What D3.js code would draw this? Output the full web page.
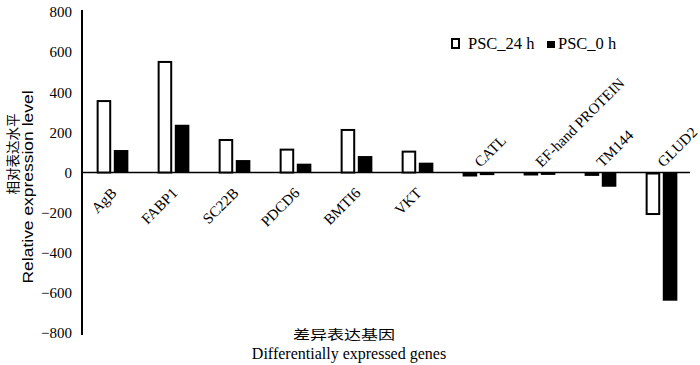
<!DOCTYPE html>
<html>
<head>
    <meta charset="utf-8">
    <title>Differentially expressed genes</title>
    <script type="text/javascript" src="https://cdn.jsdelivr.net/npm/d3@7/dist/d3.min.js"></script>
</head>
<body style="margin:0;background:#fff;">

<style>
.bar_24 { fill: #fff; stroke: #000; stroke-width: 2; }
.bar_0 { fill: #000; }
text { font-family: "Liberation Serif", "Times New Roman", serif; fill: #000; }
</style>

<script type="text/javascript">
    var width = 700,
        height = 365;

    var genes = ["AgB", "FABP1", "SC22B", "PDCD6", "BMTI6", "VKT",
                 "CATL", "EF-hand PROTEIN", "TM144", "GLUD2"];
    var series = ["PSC_24 h", "PSC_0 h"];
    var psc24 = [361, 556, 167, 119, 217, 109, -15, -2, -12, -207];
    var psc0 = [112, 238, 62, 44, 82, 49, -13, -12, -71, -639];
    var yTicks = [-800, -600, -400, -200, 0, 200, 400, 600, 800];

    var x0 = d3.scaleBand()
            .domain(genes)
            .range([82, 692])
            .paddingInner(0.48)
            .paddingOuter(0.24),
        x1 = d3.scaleBand()
            .domain(series)
            .range([0, x0.bandwidth()])
            .paddingInner(0.15),
        y = d3.scaleLinear()
            .domain([-800, 800])
            .range([333, 12]);

    var svg = d3.select("body").append("svg")
        .attr("width", width)
        .attr("height", height);

    // y axis, no tick marks
    var yAxis = d3.axisLeft(y)
        .tickValues(yTicks)
        .tickSize(0)
        .tickPadding(10);

    var gy = svg.append("g")
        .attr("transform", "translate(82,0)")
        .call(yAxis)
        .attr("font-family", "Liberation Serif")
        .attr("font-size", 15);
    gy.select(".domain").attr("stroke", "#000").attr("stroke-width", 2)
        .attr("d", "M0," + (y(800) - 2) + "V" + (y(-800) + 2));
    gy.selectAll(".tick text")
        .style("font-family", "Liberation Serif")
        .style("font-size", "15px");

    // zero line
    svg.append("line")
        .attr("x1", 82).attr("x2", 690)
        .attr("y1", y(0)).attr("y2", y(0))
        .attr("stroke", "#000").attr("stroke-width", 1.5);

    var rows = genes.map(function(g, i){
        return {gene: g, v24: psc24[i], v0: psc0[i]};
    });

    // white bars
    svg.selectAll("rect.bar_24")
        .data(rows)
        .enter().append("rect")
        .attr("class", "bar_24")
        .attr("x", function(d){ return x0(d.gene) + x1(series[0]) + 1; })
        .attr("width", x1.bandwidth() - 2)
        .attr("y", function(d){ return Math.min(y(d.v24), y(0)) + 1; })
        .attr("height", function(d){ return Math.max(Math.abs(y(d.v24) - y(0)) - 1, 1); });

    // black bars
    svg.selectAll("rect.bar_0")
        .data(rows)
        .enter().append("rect")
        .attr("class", "bar_0")
        .attr("x", function(d){ return x0(d.gene) + x1(series[1]); })
        .attr("width", x1.bandwidth())
        .attr("y", function(d){ return Math.min(y(d.v0), y(0)); })
        .attr("height", function(d){ return Math.abs(y(d.v0) - y(0)); });

    // gene labels, below for up-regulated, above for down-regulated
    svg.selectAll("text.gene")
        .data(rows)
        .enter().append("text")
        .attr("class", "gene")
        .style("font-size", "15px")
        .attr("text-anchor", function(d){ return d.v24 > 0 ? "end" : "start"; })
        .attr("transform", function(d){
            var cx = x0(d.gene) + x0.bandwidth() / 2;
            return d.v24 > 0
                ? "translate(" + (cx + 5) + ",194) rotate(-45)"
                : "translate(" + (cx + 2) + ",168) rotate(-45)";
        })
        .text(function(d){ return d.gene; });

    // legend
    svg.append("rect")
        .attr("x", 452).attr("y", 39).attr("width", 7).attr("height", 9)
        .attr("fill", "#fff").attr("stroke", "#000").attr("stroke-width", 2);
    svg.append("text")
        .attr("x", 468).attr("y", 49)
        .style("font-size", "16.5px")
        .text(series[0]);
    svg.append("rect")
        .attr("x", 547).attr("y", 41).attr("width", 8).attr("height", 7)
        .attr("fill", "#000");
    svg.append("text")
        .attr("x", 558).attr("y", 49)
        .style("font-size", "16.5px")
        .text(series[1]);

    // axis titles
    svg.append("text")
        .attr("transform", "translate(18,154) rotate(-90)")
        .attr("text-anchor", "middle")
        .style("font-family", "'Noto Sans CJK SC', sans-serif")
        .style("font-size", "13.5px")
        .text("相对表达水平");
    svg.append("text")
        .attr("transform", "translate(33,187) rotate(-90)")
        .attr("text-anchor", "middle")
        .style("font-family", "'Liberation Sans', Arial, sans-serif")
        .style("font-size", "15px")
        .attr("textLength", 193)
        .attr("lengthAdjust", "spacingAndGlyphs")
        .text("Relative expression level");

    svg.append("text")
        .attr("x", 344).attr("y", 339)
        .attr("text-anchor", "middle")
        .style("font-family", "'Noto Sans CJK SC', sans-serif")
        .style("font-size", "13px")
        .attr("textLength", 102)
        .attr("lengthAdjust", "spacingAndGlyphs")
        .text("差异表达基因");
    svg.append("text")
        .attr("x", 349).attr("y", 359)
        .attr("text-anchor", "middle")
        .style("font-size", "16px")
        .text("Differentially expressed genes");
</script>
</body>
</html>
